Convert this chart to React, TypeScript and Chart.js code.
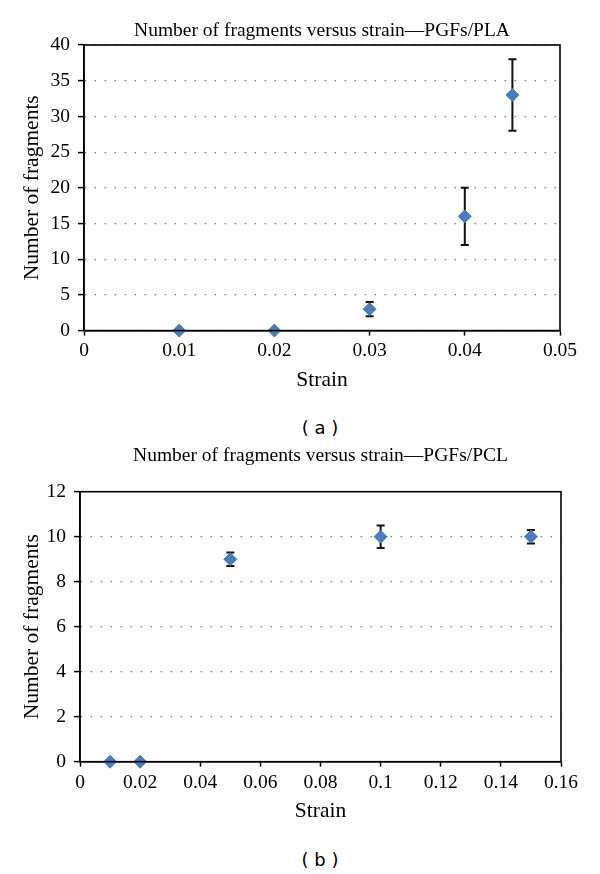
import React, { useEffect, useRef } from 'react';
import { Chart, registerables } from 'chart.js';
Chart.register(...registerables);

// ---- Data: panel (a) PGFs/PLA ----
const titleA = 'Number of fragments versus strain\u2014PGFs/PLA';
const strainA = [0.01, 0.02, 0.03, 0.04, 0.045];
const fragmentsA = [0, 0, 3, 16, 33];
const errorA = [0, 0, 1, 4, 5];
const xTickLabelsA = ['0', '0.01', '0.02', '0.03', '0.04', '0.05'];
const yTickLabelsA = ['0', '5', '10', '15', '20', '25', '30', '35', '40'];

// ---- Data: panel (b) PGFs/PCL ----
const titleB = 'Number of fragments versus strain\u2014PGFs/PCL';
const strainB = [0.01, 0.02, 0.05, 0.1, 0.15];
const fragmentsB = [0, 0, 9, 10, 10];
const errorB = [0, 0, 0.3, 0.5, 0.3];
const xTickLabelsB = ['0', '0.02', '0.04', '0.06', '0.08', '0.1', '0.12', '0.14', '0.16'];
const yTickLabelsB = ['0', '2', '4', '6', '8', '10', '12'];

const xAxisTitle = 'Strain';
const yAxisTitle = 'Number of fragments';

const SERIF = "'Liberation Serif', 'Times New Roman', serif";
const MARKER = '#4A7EBB';

const errorBarPlugin = {
  id: 'errorBars',
  beforeDatasetsDraw(chart: any) {
    const ctx = chart.ctx;
    const xs = chart.scales.x;
    const ys = chart.scales.y;
    chart.data.datasets.forEach((ds: any) => {
      const errs: number[] = ds.errors || [];
      ds.data.forEach((p: any, i: number) => {
        const e = errs[i];
        if (!e) return;
        const px = xs.getPixelForValue(p.x);
        const top = ys.getPixelForValue(p.y + e);
        const bot = ys.getPixelForValue(p.y - e);
        ctx.save();
        ctx.strokeStyle = '#111';
        ctx.lineWidth = 2;
        ctx.beginPath();
        ctx.moveTo(px, top);
        ctx.lineTo(px, bot);
        ctx.moveTo(px - 4, top);
        ctx.lineTo(px + 4, top);
        ctx.moveTo(px - 4, bot);
        ctx.lineTo(px + 4, bot);
        ctx.stroke();
        ctx.restore();
      });
    });
  },
};

const framePlugin = {
  id: 'frameAndTitle',
  afterDraw(chart: any, _args: any, opts: any) {
    const { ctx, chartArea } = chart;
    ctx.save();
    ctx.strokeStyle = '#000';
    ctx.lineWidth = 1.6;
    ctx.strokeRect(chartArea.left, chartArea.top, chartArea.right - chartArea.left, chartArea.bottom - chartArea.top);
    ctx.fillStyle = '#000';
    ctx.font = `19.5px ${SERIF}`;
    ctx.textAlign = 'center';
    ctx.textBaseline = 'middle';
    ctx.fillText(opts.text, (chartArea.left + chartArea.right) / 2, chartArea.top - opts.gap);
    ctx.restore();
  },
};

function makeConfig(p: any) {
  const xVals = p.xLabels.map(Number);
  const yVals = p.yLabels.map(Number);
  return {
    type: 'scatter',
    data: {
      datasets: [
        {
          data: p.xs.map((x: number, i: number) => ({ x, y: p.ys[i] })),
          errors: p.errs,
          pointStyle: 'rectRot',
          pointRadius: 6.5,
          pointHoverRadius: 6.5,
          backgroundColor: MARKER,
          borderColor: MARKER,
          borderWidth: 1,
          showLine: false,
          clip: false,
        },
      ],
    },
    options: {
      responsive: false,
      animation: false,
      devicePixelRatio: 1,
      layout: { padding: { left: 0, right: p.padRight, top: p.padTop, bottom: 0 } },
      plugins: {
        legend: { display: false },
        tooltip: { enabled: false },
        title: { display: false },
        frameAndTitle: { text: p.title, gap: p.titleGap },
      },
      scales: {
        x: {
          type: 'linear',
          min: xVals[0],
          max: xVals[xVals.length - 1],
          afterBuildTicks: (axis: any) => {
            axis.ticks = xVals.map((v: number) => ({ value: v }));
          },
          afterFit: (axis: any) => {
            axis.height = p.xAxisHeight;
          },
          ticks: {
            autoSkip: false,
            maxRotation: 0,
            padding: 4,
            color: '#000',
            font: { family: SERIF, size: 19.5 },
            callback: (_v: any, i: number) => p.xLabels[i],
          },
          grid: {
            display: true,
            drawOnChartArea: false,
            drawTicks: true,
            tickLength: 5,
            tickColor: '#000',
            tickWidth: 1.5,
          },
          border: { display: true, color: '#000', width: 1.6 },
          title: {
            display: true,
            text: xAxisTitle,
            color: '#000',
            font: { family: SERIF, size: 21.5 },
            padding: { top: 0, bottom: p.xTitlePad },
          },
        },
        y: {
          type: 'linear',
          min: yVals[0],
          max: yVals[yVals.length - 1],
          afterBuildTicks: (axis: any) => {
            axis.ticks = yVals.map((v: number) => ({ value: v }));
          },
          afterFit: (axis: any) => {
            axis.width = p.yAxisWidth;
          },
          ticks: {
            autoSkip: false,
            padding: 8,
            color: '#000',
            font: { family: SERIF, size: 19.5 },
            callback: (_v: any, i: number) => p.yLabels[i],
          },
          grid: {
            display: true,
            color: '#7a7a7a',
            lineWidth: 1.2,
            drawTicks: true,
            tickLength: 6,
            tickColor: '#000',
            tickWidth: 1.5,
            tickBorderDash: [],
          },
          border: { display: true, color: '#000', width: 1.6, dash: [1.5, 8.5] },
          title: {
            display: true,
            text: yAxisTitle,
            color: '#000',
            font: { family: SERIF, size: 21.5 },
            padding: { top: 19, bottom: 0 },
          },
        },
      },
    },
    plugins: [errorBarPlugin, framePlugin],
  };
}

function ChartPanel({ cfg, top, height }: { cfg: any; top: number; height: number }) {
  const ref = useRef<HTMLCanvasElement>(null);
  useEffect(() => {
    const chart = new Chart(ref.current as HTMLCanvasElement, cfg);
    return () => chart.destroy();
  }, []);
  return (
    <canvas
      ref={ref}
      width={600}
      height={height}
      style={{ position: 'absolute', left: 0, top, width: 600, height }}
    />
  );
}

const cfgA = makeConfig({
  title: titleA,
  xs: strainA,
  ys: fragmentsA,
  errs: errorA,
  xLabels: xTickLabelsA,
  yLabels: yTickLabelsA,
  padRight: 40,
  padTop: 45,
  titleGap: 14,
  xAxisHeight: 69.4,
  xTitlePad: 7,
  yAxisWidth: 84,
});

const cfgB = makeConfig({
  title: titleB,
  xs: strainB,
  ys: fragmentsB,
  errs: errorB,
  xLabels: xTickLabelsB,
  yLabels: yTickLabelsB,
  padRight: 39,
  padTop: 61.7,
  titleGap: 36,
  xAxisHeight: 68.3,
  xTitlePad: 5.4,
  yAxisWidth: 80,
});

const captionStyle: React.CSSProperties = {
  position: 'absolute',
  left: 20,
  width: 600,
  textAlign: 'center',
  fontFamily: "'DejaVu Sans', Verdana, sans-serif",
  fontSize: 18,
  color: '#000',
  lineHeight: '20px',
  whiteSpace: 'pre',
};

export default function App() {
  return (
    <div style={{ position: 'absolute', left: 0, top: 0, width: 600, height: 874, background: '#fff', overflow: 'hidden' }}>
      <ChartPanel cfg={cfgA} top={0} height={400} />
      <div style={{ ...captionStyle, top: 418 }}>( a )</div>
      <ChartPanel cfg={cfgB} top={430} height={400} />
      <div style={{ ...captionStyle, top: 850 }}>( b )</div>
    </div>
  );
}
